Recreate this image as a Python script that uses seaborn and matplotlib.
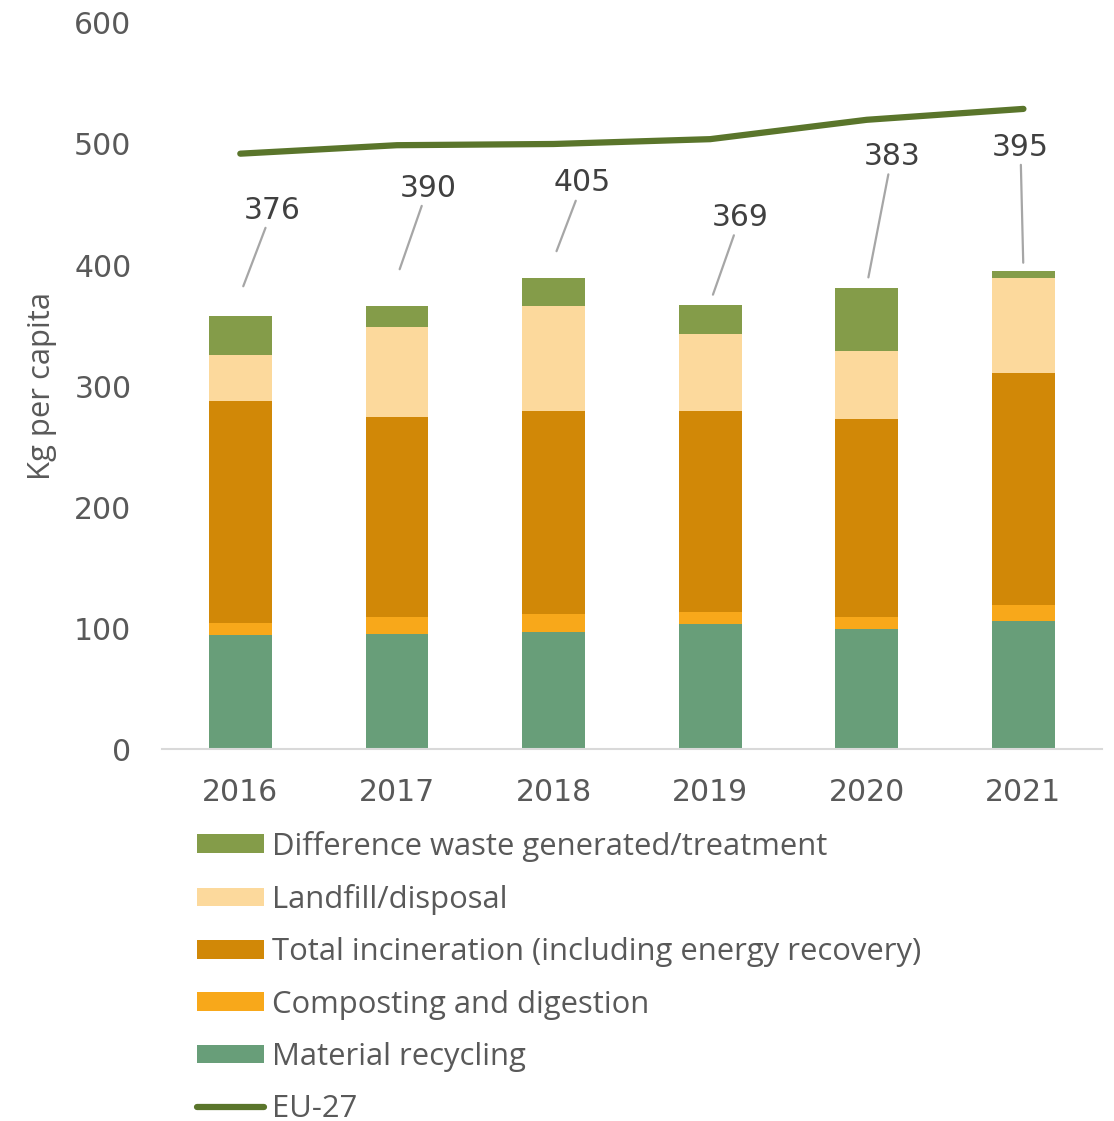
import matplotlib
matplotlib.use("Agg")
import matplotlib.pyplot as plt
import seaborn as sns
import pandas as pd
import numpy as np
from matplotlib.patches import Patch
from matplotlib.lines import Line2D
from matplotlib.font_manager import FontProperties

years = ["2016", "2017", "2018", "2019", "2020", "2021"]
material_recycling = [94, 95, 97, 103, 99, 106]
composting = [10, 14, 15, 10, 10, 13]
incineration = [184, 165, 167, 166, 164, 192]
landfill = [38, 75, 87, 64, 56, 78]
difference = [32, 17, 23, 24, 52, 6]
eu27 = [492, 499, 500, 504, 520, 529]
total_labels = [376, 390, 405, 369, 383, 395]

series_names = ["Material recycling", "Composting and digestion",
                "Total incineration (including energy recovery)",
                "Landfill/disposal", "Difference waste generated/treatment"]
series_vals = [material_recycling, composting, incineration, landfill, difference]
colors = ["#689e79", "#f8a81a", "#d18807", "#fcd99c", "#849c49"]
line_color = "#5a752b"

sns.set_theme(style="white")
plt.rcParams["font.family"] = ["DejaVu Sans"]
TEXTFONT = ["Open Sans", "DejaVu Sans"]
FS = 22.3
NUM_FS = 21.5
TXT = "#595959"

cum = np.zeros(len(years))
cums = []
for v in series_vals:
    cum = cum + np.array(v)
    cums.append(cum.copy())

fig = plt.figure(figsize=(11.14, 11.21), dpi=100)
ax = fig.add_axes([0.1454, 0.3318, 0.8436, 0.6477])

# draw from top layer to bottom so stacked appearance emerges
for name, c, col in reversed(list(zip(series_names, cums, colors))):
    d = pd.DataFrame({"year": years, "val": c})
    sns.barplot(data=d, x="year", y="val", color=col, width=0.4,
                saturation=1, linewidth=0, ax=ax, order=years)

line_df = pd.DataFrame({"year": years, "val": eu27})
sns.lineplot(data=line_df, x="year", y="val", color=line_color, lw=4.5,
             sort=False, ax=ax, solid_capstyle="round")

# annotations with leader lines
offsets = [(32, 84), (31, 89), (29, 76), (30, 85), (25, 129), (-3, 124)]
for i, (val, off) in enumerate(zip(total_labels, offsets)):
    ax.annotate(str(val), xy=(i, val), xytext=off, textcoords="offset pixels",
                ha="center", va="center", fontsize=NUM_FS, color="#404040",
                arrowprops=dict(arrowstyle="-", color="#a6a6a6", lw=1.6,
                                shrinkA=0, shrinkB=6))

ax.set_xlim(-0.5, 5.5)
ax.set_ylim(0, 600)
ax.set_yticks([0, 100, 200, 300, 400, 500, 600])
ax.set_xlabel("")
ax.set_ylabel("Kg per capita", fontsize=FS, color=TXT, labelpad=12, family=TEXTFONT)
ax.tick_params(axis="both", length=0, labelsize=NUM_FS, labelcolor=TXT)
ax.tick_params(axis="y", pad=22)
ax.tick_params(axis="x", pad=20.5)
for s in ["top", "right", "left"]:
    ax.spines[s].set_visible(False)
ax.spines["bottom"].set_color("#d9d9d9")
ax.spines["bottom"].set_linewidth(1.5)

handles = [Patch(facecolor=col, edgecolor="none", label=n)
           for n, col in reversed(list(zip(series_names, colors)))]
handles.append(Line2D([0], [0], color=line_color, lw=4.5, solid_capstyle="round", label="EU-27"))
leg = fig.legend(handles=handles, loc="upper left", bbox_to_anchor=(0.1768, 0.259),
                 frameon=False, prop=FontProperties(family=TEXTFONT, size=FS),
                 handlelength=2.17, handleheight=0.55,
                 handletextpad=0.25, labelspacing=0.72, borderpad=0, borderaxespad=0)
for t in leg.get_texts():
    t.set_color(TXT)

fig.savefig("out.png", dpi=100)
